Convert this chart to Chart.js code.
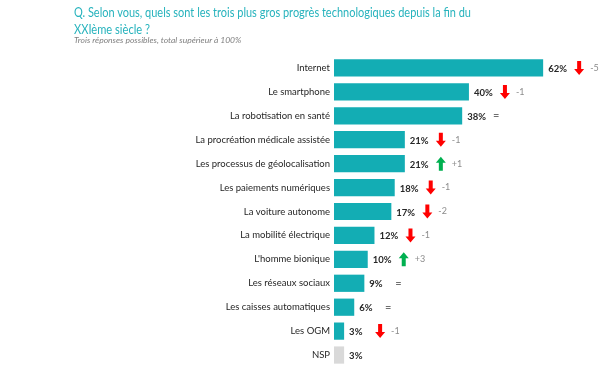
<!DOCTYPE html>
<html><head><meta charset="utf-8">
<script src="https://cdn.jsdelivr.net/npm/chart.js@4"></script>
<style>
html,body{margin:0;padding:0;background:#fff;width:605px;height:381px;overflow:hidden;font-family:Lato,"Open Sans",sans-serif}
.tl{position:absolute;left:74px;font-size:14px;color:#27b3bd;white-space:nowrap;transform-origin:0 0;line-height:16px}
#t2{position:absolute;left:74px;top:35px;font-size:8.5px;color:#7f7f7f;font-style:italic}
#wrap{position:absolute;left:0;top:0;width:605px;height:381px}
</style></head><body>
<div id="wrap"><canvas id="c" width="605" height="381"></canvas></div>
<div class="tl" id="l1" data-w="397" style="top:4px">Q. Selon vous, quels sont les trois plus gros progrès technologiques depuis la fin du</div>
<div class="tl" id="l2" data-w="76" style="top:21px">XXIème siècle ?</div>
<div id="t2">Trois réponses possibles, total supérieur à 100%</div>
<script>
document.querySelectorAll('.tl').forEach(el=>{
  const w = el.getBoundingClientRect().width;
  el.style.transform = 'scaleX(' + (parseFloat(el.dataset.w)/w) + ')';
});

const categories = ["Internet","Le smartphone","La robotisation en santé","La procréation médicale assistée","Les processus de géolocalisation","Les paiements numériques","La voiture autonome","La mobilité électrique","L'homme bionique","Les réseaux sociaux","Les caisses automatiques","Les OGM","NSP"];
const values = [62,40,38,21,21,18,17,12,10,9,6,3,3];
const changes = ["-5","-1","=","-1","+1","-1","-2","-1","+3","=","=","-1",""];
const colors = values.map((v,i)=> categories[i]==="NSP" ? "#d9d9d9" : "#13adb4");

const annot = {
  id:'annot',
  afterDatasetsDraw(chart){
    const ctx = chart.ctx;
    const meta = chart.getDatasetMeta(0);
    meta.data.forEach((bar,i)=>{
      const x = bar.x, y = bar.y;
      ctx.save();
      ctx.font = "bold 9.5px Lato, sans-serif";
      ctx.fillStyle = "#262626";
      ctx.textBaseline = "middle";
      ctx.textAlign = "left";
      ctx.fillText(values[i]+"%", x+5, y+1);
      const ch = changes[i];
      if(ch){
        const ax = x+36;
        if(ch==="="){
          ctx.font = "11px Lato, sans-serif";
          ctx.fillStyle = "#6f6f6f";
          ctx.textAlign = "center";
          ctx.fillText("=", ax-2, y);
        } else {
          const up = ch[0]==="+";
          ctx.fillStyle = up ? "#00b050" : "#ff0000";
          const h = 14, hw = 5, sw = 2, headH = 6;
          ctx.beginPath();
          const top = y - h/2, bot = y + h/2;
          if(up){
            ctx.moveTo(ax, top);
            ctx.lineTo(ax+hw, top+headH);
            ctx.lineTo(ax+sw, top+headH);
            ctx.lineTo(ax+sw, bot);
            ctx.lineTo(ax-sw, bot);
            ctx.lineTo(ax-sw, top+headH);
            ctx.lineTo(ax-hw, top+headH);
          } else {
            ctx.moveTo(ax-sw, top);
            ctx.lineTo(ax+sw, top);
            ctx.lineTo(ax+sw, bot-headH);
            ctx.lineTo(ax+hw, bot-headH);
            ctx.lineTo(ax, bot);
            ctx.lineTo(ax-hw, bot-headH);
            ctx.lineTo(ax-sw, bot-headH);
          }
          ctx.closePath();
          ctx.fill();
          ctx.font = "9px Lato, sans-serif";
          ctx.fillStyle = "#8c8c8c";
          ctx.textAlign = "left";
          ctx.fillText(ch, x+47, y);
        }
      }
      ctx.restore();
    });
  }
};

new Chart(document.getElementById('c'),{
  type:'bar',
  data:{labels:categories,datasets:[{data:values,backgroundColor:colors,borderWidth:0,barPercentage:0.72,categoryPercentage:1}]},
  options:{
    indexAxis:'y',
    responsive:false,
    animation:false,
    layout:{padding:{left:0,right:18,top:56,bottom:14}},
    plugins:{legend:{display:false},tooltip:{enabled:false}},
    scales:{
      x:{display:false,min:0,max:75},
      y:{
        grid:{display:false,drawTicks:false},
        border:{display:false},
        ticks:{color:"#262626",font:{family:"Lato, sans-serif",size:9.5},padding:4},
        afterFit(s){s.width=334;}
      }
    }
  },
  plugins:[annot]
});
</script>
</body></html>
